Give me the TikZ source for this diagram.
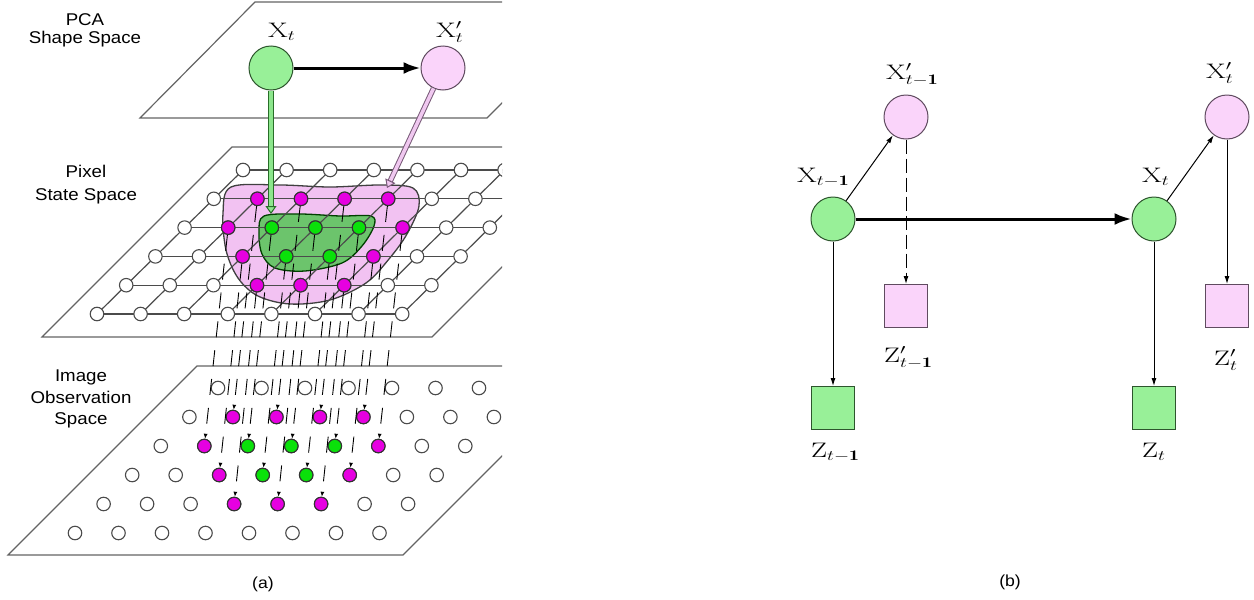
\documentclass[tikz,border=0pt]{standalone}
\usepackage{fontspec}
\setsansfont{Liberation Sans}
\usepackage{graphicx}
\usetikzlibrary{arrows.meta,calc}
\definecolor{lgreen}{RGB}{152,240,152}
\definecolor{lpink}{RGB}{250,212,250}
\definecolor{dgreen}{RGB}{45,85,45}
\definecolor{dpink}{RGB}{95,75,95}
\definecolor{mag}{RGB}{230,0,225}
\definecolor{bgreen}{RGB}{10,225,10}
\definecolor{blobpink}{RGB}{242,194,242}
\definecolor{blobgreen}{RGB}{108,196,108}
\definecolor{gline}{RGB}{75,75,75}
\definecolor{pline}{RGB}{100,100,100}
\definecolor{dgline}{RGB}{40,110,40}
\definecolor{dgfill}{RGB}{140,230,140}
\definecolor{dpline}{RGB}{120,90,120}
\definecolor{dpfill}{RGB}{240,200,240}
\newcommand{\ML}[1]{\scalebox{1.35}[1]{$#1$}}
\newcommand{\SL}[1]{\scalebox{1.1}[1]{#1}}
\pgfdeclarelayer{back}
\pgfdeclarelayer{grid}
\pgfsetlayers{back,grid,main}
\begin{document}
\begin{tikzpicture}[x=1pt,y=-1pt,
  plane/.style={draw=pline, line width=1.2pt},
  wnode/.style={circle, draw=gline, fill=white, line width=1.1pt, minimum size=13.5pt, inner sep=0pt},
  mnode/.style={wnode, fill=mag, draw=black!80},
  gnode/.style={wnode, fill=bgreen, draw=black!80},
  gridline/.style={draw=gline, line width=1.2pt},
  dasharr/.style={draw=black, line width=0.9pt, dash pattern=on 16pt off 13pt, -{Latex[length=5pt,width=4pt]}},
  bigc/.style={circle, minimum size=44pt, inner sep=0pt, line width=1pt},
  gcirc/.style={bigc, fill=lgreen, draw=dgreen},
  pcirc/.style={bigc, fill=lpink, draw=dpink},
  sq/.style={rectangle, minimum size=43pt, inner sep=0pt, line width=1pt},
  gsq/.style={sq, fill=lgreen, draw=dgreen},
  psq/.style={sq, fill=lpink, draw=dpink},
  mlabel/.style={anchor=base west, inner sep=0pt, font=\fontsize{21}{25}\selectfont},
  slabel/.style={anchor=north, inner sep=0pt, align=center},
  bigarr/.style={line width=3pt, -{Latex[length=17pt,width=12pt]}},
  tarr/.style={line width=1pt, -{Latex[length=8pt,width=5pt]}},
  garr/.style={draw=dgline, line width=1pt, double=dgfill, double distance=3.5pt, shorten >=7pt},
  parr/.style={draw=dpline, line width=1pt, double=dpfill, double distance=3.5pt, shorten >=7pt},
  gtip/.style={draw=dgline, line width=1pt, -{Triangle[open, fill=dgfill, length=8pt, width=11pt]}},
  ptip/.style={draw=dpline, line width=1pt, -{Triangle[open, fill=dpfill, length=8pt, width=11pt]}},
]
\useasboundingbox (0,0) rectangle (1254,600);

% ---------------- panel (a) ----------------
\begin{scope}
\clip (0,0) rectangle (502,600);
\draw[plane] (140,118) -- (255,2) -- (603,2) -- (487,118) -- cycle;
\draw[plane] (42,337) -- (232,147) -- (622,147) -- (432,337) -- cycle;
\draw[plane] (8,555) -- (197,366) -- (592,366) -- (403,555) -- cycle;

\foreach \r in {0,...,5}{\foreach \c in {0,...,7}{
  \pgfmathsetmacro\px{243-29.2*\r+43.6*\c}
  \pgfmathsetmacro\py{170+28.8*\r}
  \node[wnode] (p-\r-\c) at (\px,\py) {};
  \pgfmathsetmacro\qx{218-28.6*\r+43.5*\c}
  \pgfmathsetmacro\qy{388+29*\r}
  \node[wnode] (o-\r-\c) at (\qx,\qy) {};
}}
\foreach \r/\c in {1/1,1/2,1/3,1/4,2/1,2/5,3/2,3/5,4/3,4/4,4/5}{
  \pgfmathsetmacro\px{243-29.2*\r+43.6*\c}
  \pgfmathsetmacro\py{170+28.8*\r}
  \node[mnode] (p-\r-\c) at (\px,\py) {};
  \pgfmathsetmacro\qx{218-28.6*\r+43.5*\c}
  \pgfmathsetmacro\qy{388+29*\r}
  \node[mnode] (o-\r-\c) at (\qx,\qy) {};
}
\foreach \r/\c in {2/2,2/3,2/4,3/3,3/4}{
  \pgfmathsetmacro\px{243-29.2*\r+43.6*\c}
  \pgfmathsetmacro\py{170+28.8*\r}
  \node[gnode] (p-\r-\c) at (\px,\py) {};
  \pgfmathsetmacro\qx{218-28.6*\r+43.5*\c}
  \pgfmathsetmacro\qy{388+29*\r}
  \node[gnode] (o-\r-\c) at (\qx,\qy) {};
}
\end{scope}

\begin{pgfonlayer}{back}
\draw[draw=black!75, fill=blobpink, line width=1.3pt]
  plot[smooth cycle, tension=0.55] coordinates {(231,187) (280,185) (330,187) (380,185) (413,188) (419,206) (407,234) (389,259) (366,283) (330,300) (290,304) (258,296) (238,278) (226,250) (223,213)};
\draw[draw=black!75!green, fill=blobgreen, line width=1.3pt]
  plot[smooth cycle, tension=0.55] coordinates {(264,216) (300,214) (340,216) (371,216) (374,226) (362,246) (342,263) (305,271) (275,268) (262,254) (259,232)};
\end{pgfonlayer}

\begin{pgfonlayer}{grid}
\begin{scope}
\clip (0,0) rectangle (502,600);
\foreach \r in {0,...,5}{\foreach \c in {0,...,6}{
  \pgfmathtruncatemacro\n{\c+1}
  \draw[gridline] (p-\r-\c.center) -- (p-\r-\n.center);
}}
\foreach \r in {0,...,4}{\foreach \c in {0,...,7}{
  \pgfmathtruncatemacro\n{\r+1}
  \draw[gridline] (p-\r-\c.center) -- (p-\n-\c.center);
}}
\end{scope}
\end{pgfonlayer}

\foreach \r/\c in {1/1,1/2,1/3,1/4,2/1,2/2,2/3,2/4,2/5,3/2,3/3,3/4,3/5,4/3,4/4,4/5}{
  \draw[dasharr] (p-\r-\c) -- (o-\r-\c);
}

\node[gcirc] (Xt) at (271,68) {};
\node[pcirc] (Xp) at (443,68) {};
\draw[bigarr] (Xt) -- (Xp);
\node[mlabel] (lXt) at (268,37) {\ML{\mathrm{X}_t}};
\node[mlabel] (lXp) at (436,37) {\ML{\mathrm{X}'_t}};
\coordinate (gend) at (271,214);
\coordinate (pend) at (387,188);
\draw[garr] (Xt) -- (gend);
\draw[gtip] ($(gend)!8pt!(Xt)$) -- (gend);
\draw[parr] (Xp) -- (pend);
\draw[ptip] ($(pend)!8pt!(Xp)$) -- (pend);

\node[slabel, font=\sffamily\fontsize{17}{18}\selectfont] (lpca) at (85,13) {\SL{PCA}\\\SL{Shape Space}};
\node[slabel, font=\sffamily\fontsize{17}{23}\selectfont] (lpix) at (86,165) {\SL{Pixel}\\\SL{State Space}};
\node[slabel, font=\sffamily\fontsize{17}{21.5}\selectfont] (limg) at (81,370) {\SL{Image}\\\SL{Observation}\\\SL{Space}};
\node[font=\sffamily\fontsize{16}{18}\selectfont] (capa) at (263,584) {\SL{(a)}};

% ---------------- panel (b) ----------------
\node[gcirc] (B1) at (833,219) {};
\node[pcirc] (Bp1) at (906,117) {};
\node[gcirc] (B2) at (1154,219) {};
\node[pcirc] (Bp2) at (1227,117) {};
\node[gsq] (Z1) at (833,408) {};
\node[psq] (Zp1) at (906,306) {};
\node[gsq] (Z2) at (1154,408) {};
\node[psq] (Zp2) at (1227,306) {};

\draw[tarr] (B1) -- (Bp1);
\draw[bigarr] (B1) -- (B2);
\draw[tarr] (B1) -- (Z1);
\draw[tarr, dash pattern=on 14pt off 5pt] (Bp1) -- (Zp1);
\draw[tarr] (B2) -- (Bp2);
\draw[tarr] (B2) -- (Z2);
\draw[tarr] (Bp2) -- (Zp2);

\node[mlabel] (lB1) at (797,182) {\ML{\mathrm{X}_{t-\mathbf{1}}}};
\node[mlabel] (lBp1) at (886,79) {\ML{\mathrm{X}'_{t-\mathbf{1}}}};
\node[mlabel] (lB2) at (1142,182) {\ML{\mathrm{X}_t}};
\node[mlabel] (lBp2) at (1206,78) {\ML{\mathrm{X}'_t}};
\node[mlabel] (lZp1) at (884,362) {\ML{\mathrm{Z}'_{t-\mathbf{1}}}};
\node[mlabel] (lZp2) at (1214,365) {\ML{\mathrm{Z}'_t}};
\node[mlabel] (lZ1) at (811,457) {\ML{\mathrm{Z}_{t-\mathbf{1}}}};
\node[mlabel] (lZ2) at (1142,457) {\ML{\mathrm{Z}_t}};
\node[font=\sffamily\fontsize{16}{18}\selectfont] (capb) at (1010,582) {\SL{(b)}};
\end{tikzpicture}
\end{document}
